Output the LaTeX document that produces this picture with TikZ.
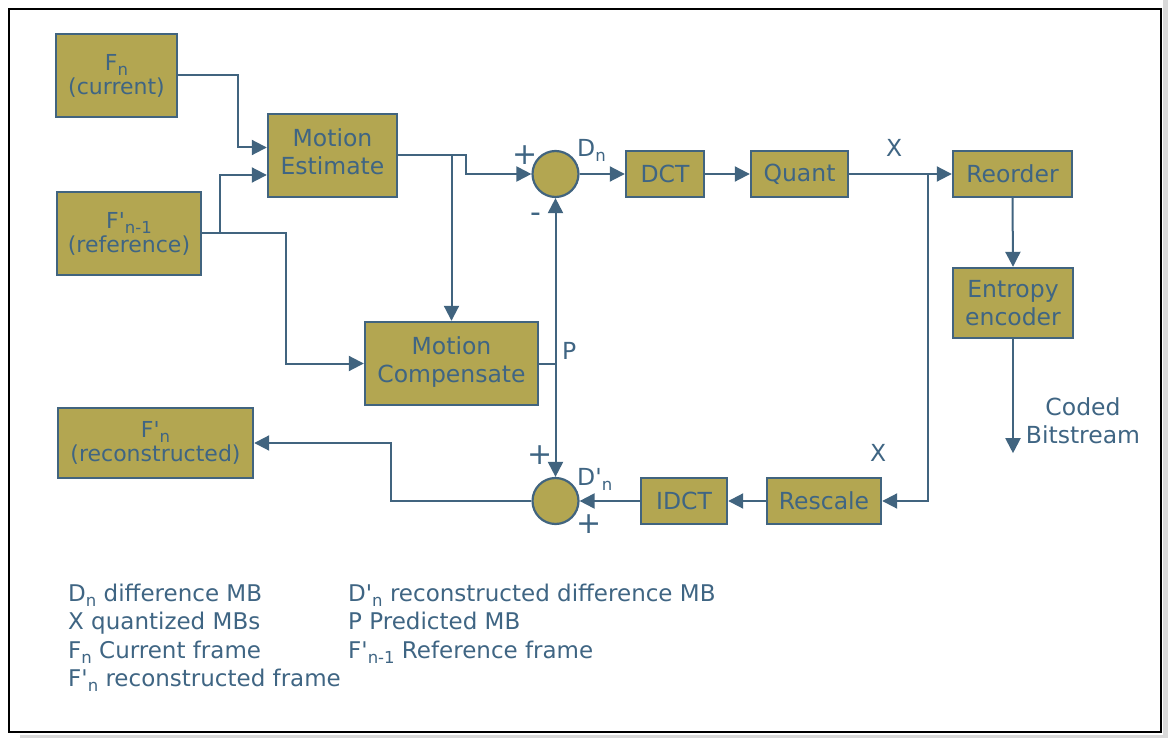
\documentclass[tikz,border=0pt]{standalone}
\usepackage{fontspec}
\setmainfont{DejaVu Sans}
\usepackage{tikz}
\usetikzlibrary{arrows.meta, positioning, calc}
\definecolor{boxfill}{HTML}{B3A651}
\definecolor{linecol}{HTML}{41647F}
\definecolor{labeltext}{HTML}{3F6583}
\newcommand{\subidx}[1]{\raisebox{-5pt}{\fontsize{16.5}{16.5}\selectfont #1}}
\newcommand{\prm}{\textquotesingle}

\begin{document}
\begin{tikzpicture}[
  x=1pt, y=-1pt,
  font=\fontsize{23.5}{28}\selectfont, text=labeltext,
  block/.style={
    rectangle, draw=linecol, line width=2.4pt, fill=boxfill,
    align=center, inner sep=0pt
  },
  summer/.style={
    circle, draw=linecol, line width=2.2pt, fill=boxfill,
    minimum size=46pt, inner sep=0pt
  },
  small/.style={font=\fontsize{22}{24}\selectfont},
  sign/.style={font=\fontsize{30}{30}\selectfont, inner sep=0pt},
  tag/.style={anchor=base west, inner sep=0pt},
  arrow/.style={-{Triangle[length=15pt, width=15pt]}, line width=2pt, draw=linecol},
  wire/.style={line width=2pt, draw=linecol},
]
  % page and frame
  \useasboundingbox (0,0) rectangle (1168,738);
  \fill[gray!30] (1163,0) rectangle (1168,738);
  \fill[gray!30] (20,735) rectangle (1168,738);
  \draw[line width=2.5pt] (9,9) rectangle (1161,732);

  % blocks
  \node[block, small, minimum width=121pt, minimum height=83pt] (fcur) at (116.5,75.5) {F\subidx{n}\\(current)};
  \node[block, minimum width=129pt, minimum height=83pt] (mest) at (332.5,155.5) {Motion\\Estimate\rule[-8pt]{0pt}{0pt}};
  \node[block, small, minimum width=144pt, minimum height=83pt] (fref) at (129,233.5) {F\prm\subidx{n-1}\\(reference)};
  \node[block, minimum width=173pt, minimum height=83pt] (mcomp) at (451.5,363.5) {Motion\\Compensate\rule[-8pt]{0pt}{0pt}};
  \node[summer] (sumtop) at (555.5,174) {};
  \node[block, minimum width=78pt, minimum height=46pt] (dct) at (665,174) {DCT};
  \node[block, minimum width=97pt, minimum height=46pt] (quant) at (799.5,174) {Quant};
  \node[block, minimum width=119pt, minimum height=46pt] (reorder) at (1012.5,174) {Reorder};
  \node[block, minimum width=120pt, minimum height=70pt] (entropy) at (1013,303) {Entropy\\encoder};
  \node[block, small, minimum width=195pt, minimum height=70pt] (frec) at (155.5,443) {F\prm\subidx{n}\\(reconstructed)};
  \node[summer] (sumbot) at (555.5,501) {};
  \node[block, minimum width=86pt, minimum height=46pt] (idct) at (684,501) {IDCT};
  \node[block, minimum width=114pt, minimum height=46pt] (rescale) at (824,501) {Rescale};

  % forward path
  \draw[arrow] (fcur.east) -- ++(60,0) |- ($(mest.west)+(0,-8)$);
  \draw[arrow] (fref.east) -- ++(18,0) |- ($(mest.west)+(0,19.5)$);
  \draw[arrow] (fref.east) -- ++(84,0) |- (mcomp.west);
  \draw[arrow] (mest.east) -- ++(68,0) |- (sumtop.west);
  \draw[arrow] (mest.east) -| (mcomp.north);
  \coordinate (pjoin) at (mcomp.east -| sumtop.south);
  \draw[wire] (mcomp.east) -- (pjoin);
  \draw[arrow] (pjoin) -- (sumtop.south);
  \draw[arrow] (pjoin) -- (sumbot.north);
  \draw[arrow] (sumtop.east) -- (dct.west);
  \draw[arrow] (dct.east) -- (quant.west);
  \draw[arrow] (quant.east) -- (reorder.west);
  \draw[arrow] (reorder.south) -- (entropy.north);
  \coordinate (bitout) at ($(entropy.south)+(0,114)$);
  \draw[arrow] (entropy.south) -- (bitout);

  % reconstruction path
  \coordinate (xsplit) at (928,174);
  \draw[arrow] (xsplit) |- (rescale.east);
  \draw[arrow] (rescale.west) -- (idct.east);
  \draw[arrow] (idct.west) -- (sumbot.east);
  \draw[arrow] (sumbot.west) -- ++(-140,0) |- (frec.east);

  % signs and labels
  \node[sign] (plusa) at (525.5,155) {+};
  \node[sign] (minusa) at (536,218) {-};
  \node[tag] (dnlab) at (577,157) {D\subidx{n}};
  \node[tag] (plab) at (562,359) {P};
  \node[tag] (xtop) at (886,157) {X};
  \node[tag] (xbot) at (870,461) {X};
  \node[sign] (plusb) at (540,455) {+};
  \node[tag] (dnrlab) at (577,485) {D\prm\subidx{n}};
  \node[sign] (plusc) at (589,524) {+};
  \node[align=center] (coded) at (1083,421) {Coded\\Bitstream};

  % legend
  \node[anchor=north west, align=left, inner sep=0pt, font=\fontsize{23}{28.3}\selectfont] (legleft) at (68,584)
    {D\subidx{n} difference MB\\X quantized MBs\\F\subidx{n} Current frame\\F\prm\subidx{n} reconstructed frame};
  \node[anchor=north west, align=left, inner sep=0pt, font=\fontsize{23}{28.3}\selectfont] (legright) at (348,584)
    {D\prm\subidx{n} reconstructed difference MB\\P Predicted MB\\F\prm\subidx{n-1} Reference frame};
\end{tikzpicture}
\end{document}
